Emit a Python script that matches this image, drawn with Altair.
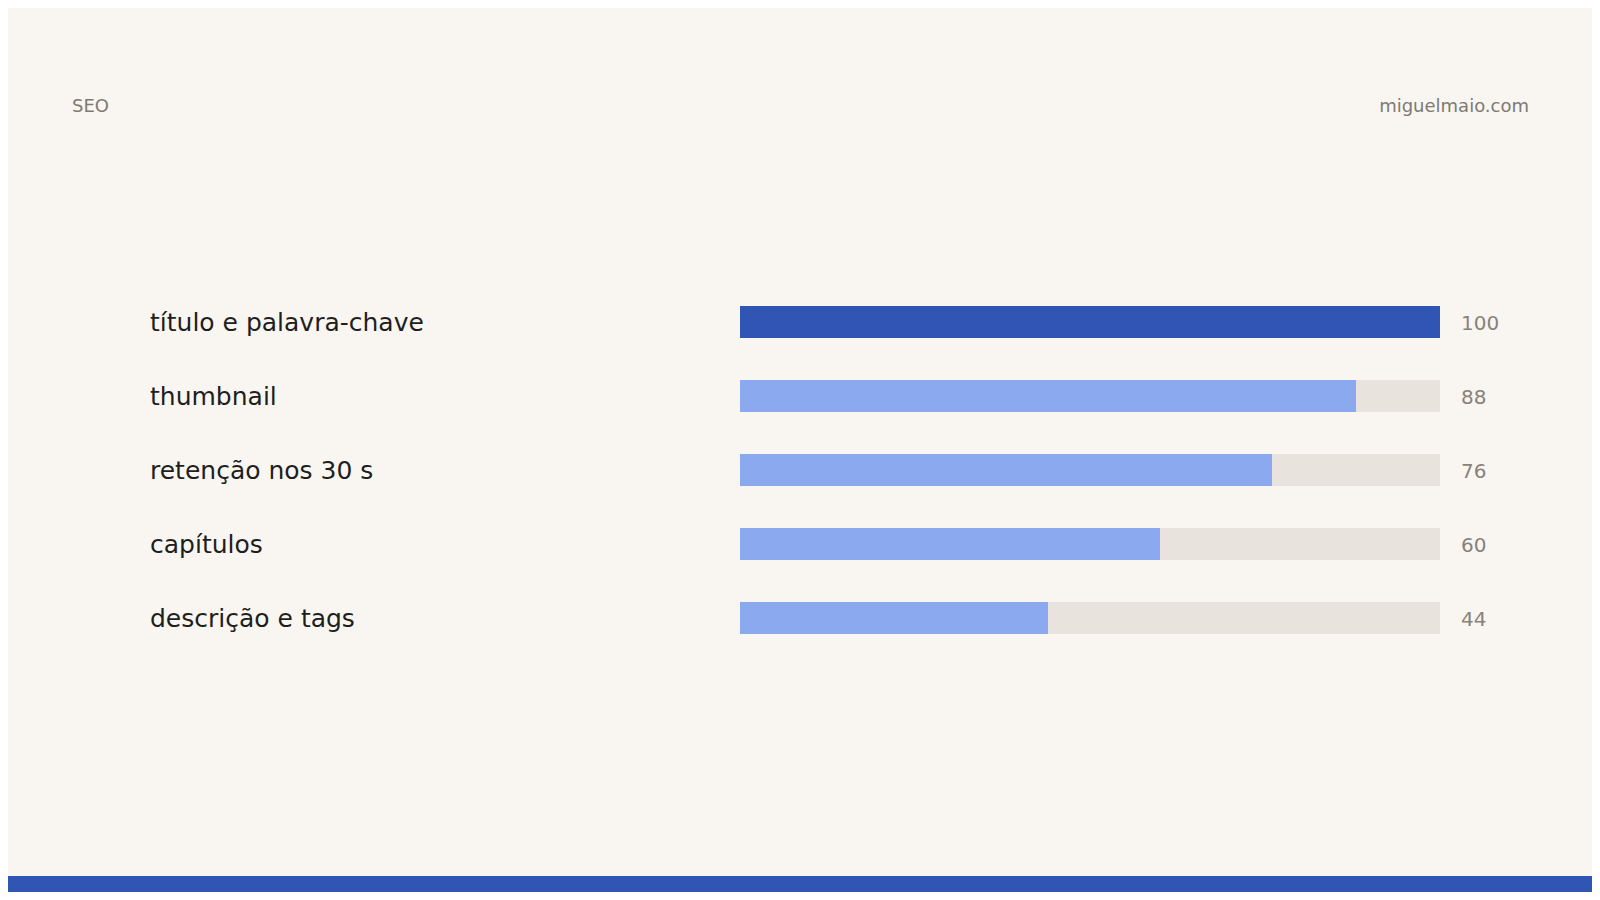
import altair as alt
import pandas as pd

labels = ["título e palavra-chave", "thumbnail", "retenção nos 30 s", "capítulos", "descrição e tags"]
values = [100, 88, 76, 60, 44]
highlight = [True, False, False, False, False]
track_max = [100, 100, 100, 100, 100]

header_left = "SEO"
header_right = "miguelmaio.com"

BG = "#f9f6f1"
DARK = "#3155b5"
LIGHT = "#8aa9ef"
TRACK = "#e8e3dc"
LABEL = "#1e1e1e"
VALUE = "#87827a"
HEAD = "#7e7a73"
FONT = "DejaVu Sans"

df = pd.DataFrame({"label": labels, "value": values, "hl": highlight, "track": track_max})

W, H = 1584, 884

xscale = alt.Scale(domain=[0, 100], range=[732, 1432], zero=True)
yscale = alt.Scale(domain=labels, range=[277, 647], paddingInner=0.5676, paddingOuter=0.2838)
Y = alt.Y("label:N", sort=labels, scale=yscale, axis=None)

base = alt.Chart(df)

track = base.mark_bar(color=TRACK).encode(
    x=alt.X("track:Q", scale=xscale, axis=None), y=Y
)

bars = base.mark_bar().encode(
    x=alt.X("value:Q", scale=xscale, axis=None),
    y=Y,
    color=alt.Color("hl:N", scale=alt.Scale(domain=[True, False], range=[DARK, LIGHT]), legend=None),
)

names = base.mark_text(align="left", baseline="middle", font=FONT, fontSize=25, color=LABEL, dy=1).encode(
    x=alt.value(142), y=Y, text="label:N"
)

nums = base.mark_text(align="left", baseline="middle", font=FONT, fontSize=20, color=VALUE, dy=2).encode(
    x=alt.value(1453), y=Y, text="value:Q"
)

hdf = pd.DataFrame({"t": [header_left]})
head_l = alt.Chart(hdf).mark_text(align="left", baseline="alphabetic", font=FONT, fontSize=18, color=HEAD).encode(
    x=alt.value(64), y=alt.value(104), text="t:N"
)
rdf = pd.DataFrame({"t": [header_right]})
head_r = alt.Chart(rdf).mark_text(align="right", baseline="alphabetic", font=FONT, fontSize=18, color=HEAD).encode(
    x=alt.value(1521), y=alt.value(104), text="t:N"
)

band = alt.Chart(pd.DataFrame({"k": [1]})).mark_rect(color=DARK).encode(
    x=alt.value(0), x2=alt.value(W), y=alt.value(868), y2=alt.value(H)
)

chart = alt.layer(track, bars, names, nums, head_l, head_r, band).properties(
    width=W, height=H, background=BG, padding=0,
    autosize=alt.AutoSizeParams(type="fit", contains="padding"),
).configure_view(stroke=None)

chart.save("out.html", embed_options={"renderer": "svg", "actions": False})
